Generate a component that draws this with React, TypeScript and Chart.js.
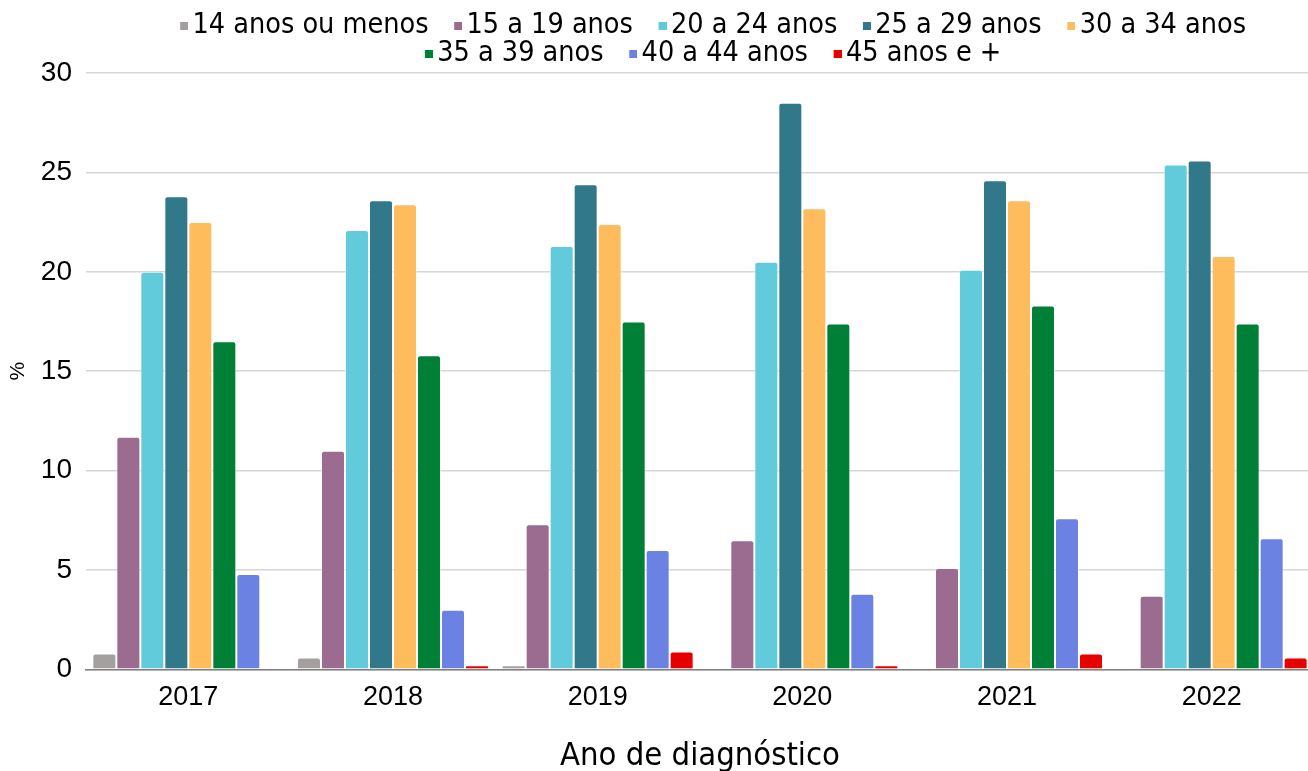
import React, { useEffect, useRef } from "react";
import { Chart, registerables } from "chart.js";

Chart.register(...registerables);

const years = ["2017", "2018", "2019", "2020", "2021", "2022"];
const seriesNames = [
  "14 anos ou menos",
  "15 a 19 anos",
  "20 a 24 anos",
  "25 a 29 anos",
  "30 a 34 anos",
  "35 a 39 anos",
  "40 a 44 anos",
  "45 anos e +",
];
const age14orLess = [0.8, 0.6, 0.2, 0, 0, 0];
const age15to19 = [11.7, 11.0, 7.3, 6.5, 5.1, 3.7];
const age20to24 = [20.0, 22.1, 21.3, 20.5, 20.1, 25.4];
const age25to29 = [23.8, 23.6, 24.4, 28.5, 24.6, 25.6];
const age30to34 = [22.5, 23.4, 22.4, 23.2, 23.6, 20.8];
const age35to39 = [16.5, 15.8, 17.5, 17.4, 18.3, 17.4];
const age40to44 = [4.8, 3.0, 6.0, 3.8, 7.6, 6.6];
const age45plus = [0, 0.2, 0.9, 0.2, 0.8, 0.6];
const seriesColors = [
  "#A5A0A0",
  "#9B6B90",
  "#61CBDB",
  "#31798A",
  "#FFBC5C",
  "#008037",
  "#6C82E3",
  "#E60000",
];
const yMin = 0;
const yMax = 30;
const yStep = 5;
const xTitle = "Ano de diagnóstico";
const yTitle = "%";

const CONDENSED = "'Liberation Sans Narrow', 'DejaVu Sans Condensed', 'Roboto Condensed', sans-serif";
const REGULAR = "'Liberation Sans', Arial, sans-serif";

function makeSwatch(color: string): HTMLCanvasElement {
  const c = document.createElement("canvas");
  c.width = 44;
  c.height = 8;
  const ctx = c.getContext("2d")!;
  ctx.fillStyle = color;
  ctx.fillRect(36, 0, 8, 8);
  return c;
}

const legendTrim = {
  id: "legendTrim",
  beforeLayout(chart: any) {
    const lg = chart.legend;
    if (lg && !lg._trimmed) {
      const orig = lg.fit.bind(lg);
      lg.fit = function () {
        orig();
        this.height = this.height - 5;
      };
      lg._trimmed = true;
    }
  },
};

export default function App() {
  const ref = useRef<HTMLCanvasElement | null>(null);

  useEffect(() => {
    if (!ref.current) return;
    const all = [age14orLess, age15to19, age20to24, age25to29, age30to34, age35to39, age40to44, age45plus];
    const swatches = seriesColors.map(makeSwatch);
    const chart = new Chart(ref.current, {
      type: "bar",
      data: {
        labels: years,
        datasets: all.map((d, i) => ({
          label: seriesNames[i],
          data: d,
          backgroundColor: seriesColors[i],
          borderColor: "rgba(255,255,255,0.55)",
          borderWidth: 1,
          borderRadius: 3,
          categoryPercentage: 0.938,
          barPercentage: 1,
        })),
      },
      options: {
        responsive: false,
        animation: false,
        layout: { padding: { top: 12, right: 2, bottom: 0, left: 0 } },
        plugins: {
          tooltip: { enabled: false },
          legend: {
            position: "top",
            fullSize: false,
            labels: {
              usePointStyle: true,
              boxWidth: 24.25,
              boxHeight: 8,
              padding: -0.5,
              color: "#000",
              font: { family: CONDENSED, size: 28.5 },
              generateLabels: (c: any) => {
                const items = (Chart.defaults.plugins.legend.labels as any).generateLabels(c);
                return items.map((it: any) => ({ ...it, pointStyle: swatches[it.datasetIndex] }));
              },
            },
          },
        },
        scales: {
          x: {
            grid: { display: false, drawTicks: false },
            border: { display: true, color: "#808080", width: 1.5 },
            ticks: { color: "#000", padding: 12, font: { family: REGULAR, size: 27 } },
            title: {
              display: true,
              text: xTitle,
              color: "#000",
              font: { family: CONDENSED, size: 32.5, lineHeight: 0.9 },
              padding: { top: 16, bottom: 0 },
            },
          },
          y: {
            min: yMin,
            max: yMax,
            ticks: { stepSize: yStep, color: "#000", padding: 14, font: { family: REGULAR, size: 28 } },
            grid: { color: "#d6d6d6", lineWidth: 1.5, drawTicks: false },
            border: { display: false },
            title: {
              display: true,
              text: yTitle,
              color: "#000",
              font: { family: REGULAR, size: 21 },
              padding: { top: 6, bottom: 0 },
            },
            afterFit: (s: any) => {
              s.width = 86;
            },
          },
        },
      },
      plugins: [legendTrim],
    } as any);
    return () => chart.destroy();
  }, []);

  return (
    <div
      style={{
        position: "fixed",
        left: 0,
        top: 0,
        width: 1308,
        height: 771,
        overflow: "hidden",
        background: "#fff",
      }}
    >
      <canvas ref={ref} width={1316} height={771} style={{ width: 1316, height: 771, display: "block" }} />
    </div>
  );
}
